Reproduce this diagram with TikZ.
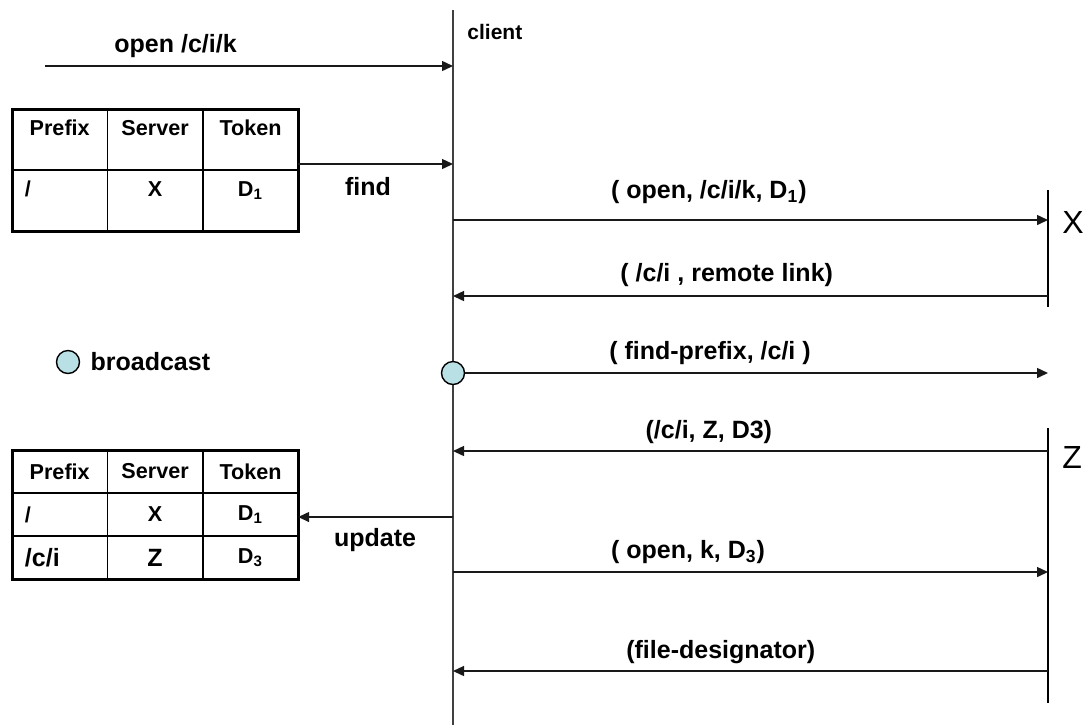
\documentclass[tikz,border=0pt]{standalone}
\usepackage{fontspec}
\setmainfont{Liberation Sans}
\usetikzlibrary{positioning}
\usetikzlibrary{arrows.meta}
\definecolor{bcastblue}{RGB}{185,224,228}
\tikzset {
    msg/.style = {draw=black!90, line width=0.7pt, -{Triangle[length=5.5pt, width=5pt]}},
    life/.style = {draw=black!75, line width=1pt},
    srv/.style = {draw=black, line width=0.7pt},
    lbl/.style = {font=\bfseries\fontsize{12.5}{15}\selectfont, inner sep=1pt},
    tab/.style = {font=\bfseries\fontsize{10.8}{13}\selectfont},
    bigtab/.style = {font=\bfseries\fontsize{12.5}{15}\selectfont},
    hcell/.style = {tab, draw, line width=0.7pt, outer sep=0pt, inner sep=0pt,
        minimum width=47.7pt, minimum height=30.5pt, text height=13pt, text depth=17.5pt},
    cell/.style = {tab, draw, line width=0.7pt, outer sep=0pt, inner sep=0pt,
        minimum width=47.7pt, minimum height=21.5pt},
    leftcell/.style = {inner xsep=6.5pt, text width=34.7pt, align=left},
    bcast/.style = {circle, draw=black, line width=0.7pt, fill=bcastblue, minimum size=11.5pt, inner sep=0pt},
    srvname/.style = {font=\fontsize{16}{19}\selectfont, inner sep=0pt}
}

\begin{document}
\begin{tikzpicture}[x=0.5pt, y=-0.5pt]
    \useasboundingbox (0,0) rectangle (1086,725);

    % lifelines
    \coordinate (ctop) at (453,10);
    \coordinate (cbot) at (453,725);
    \coordinate (xtop) at (1048,190);
    \coordinate (xbot) at (1048,307);
    \coordinate (ztop) at (1048,428);
    \coordinate (zbot) at (1048,703);
    \draw[life] (ctop) -- (cbot);
    \draw[srv] (xtop) -- (xbot);
    \draw[srv] (ztop) -- (zbot);
    \node (cname) [lbl, font=\bfseries\fontsize{10.5}{13}\selectfont, anchor=west] at (465,32) {client};
    \node (xname) [srvname, anchor=west] at (1062,222) {X};
    \node (zname) [srvname, anchor=west] at (1062,457) {Z};

    % request from the user
    \coordinate (o1) at (45,66);
    \coordinate (o2) at (453,66);
    \draw[msg] (o1) -- (o2) node [lbl, pos=.32, yshift=10pt] (olbl) {open /c/i/k};

    % prefix table before
    \node (p1) [hcell] at (59.7,139.5) {Prefix};
    \node (s1) [hcell, right=0pt of p1] {Server};
    \node (t1) [hcell, right=0pt of s1] {Token};
    \node (p2) [hcell, leftcell, below=0pt of p1] {/};
    \node (s2) [hcell, below=0pt of s1] {X};
    \node (t2) [hcell, below=0pt of t1] {D\textsubscript{1}};
    \draw[line width=1.5pt] (p1.north west) rectangle (t2.south east);

    \coordinate (f1) at (298,164);
    \coordinate (f2) at (453,164);
    \draw[msg] (f1) -- (f2);
    \node (find) [lbl] at (368,187) {find};

    % messages
    \coordinate (m1a) at (453,220);
    \coordinate (m1b) at (1048,220);
    \draw[msg] (m1a) -- (m1b) node [lbl, pos=.43, yshift=14pt] (m1) {( open, /c/i/k, D\textsubscript{1})};

    \coordinate (m2a) at (1048,296);
    \coordinate (m2b) at (453,296);
    \draw[msg] (m2a) -- (m2b) node [lbl, pos=.54, yshift=10.5pt] (m2) {( /c/i , remote link)};

    \node (bc) [bcast] at (453,373) {};
    \coordinate (m3b) at (1048,373);
    \draw[msg] (bc) -- (m3b) node [lbl, pos=.42, yshift=10pt] (m3) {( find-prefix, /c/i )};

    \node (lg) [bcast] at (68,362) {};
    \node (lgtext) [lbl, right=4pt of lg] {broadcast};

    \coordinate (m4a) at (1048,451);
    \coordinate (m4b) at (453,451);
    \draw[msg] (m4a) -- (m4b) node [lbl, pos=.57, yshift=9.5pt] (m4) {(/c/i, Z, D3)};

    % prefix table after
    \node (p3) [cell] at (59.7,471.5) {Prefix};
    \node (s3) [cell, right=0pt of p3] {Server};
    \node (t3) [cell, right=0pt of s3] {Token};
    \node (p4) [cell, leftcell, below=0pt of p3] {/};
    \node (s4) [cell, below=0pt of s3] {X};
    \node (t4) [cell, below=0pt of t3] {D\textsubscript{1}};
    \node (p5) [cell, bigtab, leftcell, below=0pt of p4] {/c/i};
    \node (s5) [cell, bigtab, below=0pt of s4] {Z};
    \node (t5) [cell, below=0pt of t4] {D\textsubscript{3}};
    \draw[line width=1.5pt] (p3.north west) rectangle (t5.south east);

    \coordinate (u1) at (453,517);
    \draw[msg] (u1) -- (t4.east |- u1);
    \node (upd) [lbl] at (375,540) {update};

    \coordinate (m5a) at (453,572);
    \coordinate (m5b) at (1048,572);
    \draw[msg] (m5a) -- (m5b) node [lbl, pos=.395, yshift=9.75pt] (m5) {( open, k, D\textsubscript{3})};

    \coordinate (m6a) at (1048,671);
    \coordinate (m6b) at (453,671);
    \draw[msg] (m6a) -- (m6b) node [lbl, pos=.55, yshift=9.5pt] (m6) {(file-designator)};
\end{tikzpicture}
\end{document}
